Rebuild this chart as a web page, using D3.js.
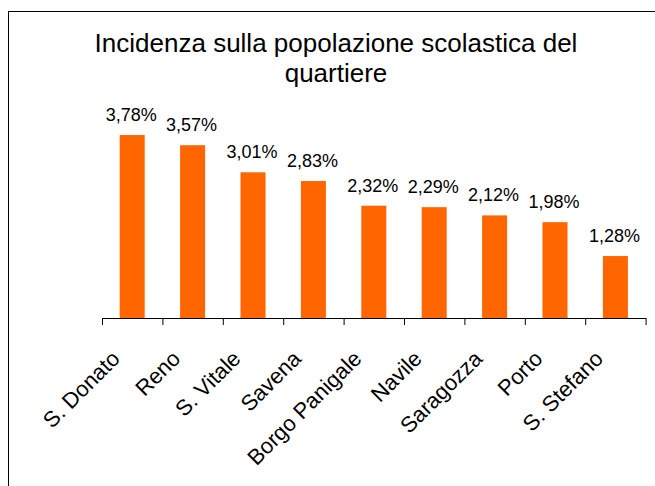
<!DOCTYPE html>
<html>

<head>
	<title>Incidenza sulla popolazione scolastica del quartiere</title>
	<script src="https://cdn.jsdelivr.net/npm/d3@7/dist/d3.min.js"></script>
	<style>
		body {
			margin: 0;
			background: #fff;
		}

		svg text {
			font-family: "Liberation Sans", Arial, sans-serif;
			fill: #000;
		}

		.bars rect {
			fill: #ff6600;
		}

		.axis path,
		.axis line {
			stroke: #000;
			stroke-width: 1px;
		}
	</style>
</head>

<body>
	<svg id="chart" width="655" height="486"></svg>

	<script>
		// quartieri
		var quartieri = ['S. Donato', 'Reno', 'S. Vitale', 'Savena', 'Borgo Panigale',
			'Navile', 'Saragozza', 'Porto', 'S. Stefano'];
		// incidenza %
		var incidenza = [3.78, 3.57, 3.01, 2.83, 2.32, 2.29, 2.12, 1.98, 1.28];
		var titleLines = ['Incidenza sulla popolazione scolastica del', 'quartiere'];

		var svg = d3.select('#chart'),
			width = +svg.attr('width'),
			height = +svg.attr('height');

		var x0 = 102, x1 = 645.6, yBase = 318;

		var data = quartieri.map((q, i) => ({ name: q, value: incidenza[i] }));

		var x = d3.scaleBand()
			.domain(quartieri)
			.range([x0, x1])
			.paddingInner(0.586)
			.paddingOuter(0.293);

		var y = d3.scaleLinear()
			.domain([0, 4])
			.range([yBase, yBase - 193.6]);

		var fmt = v => d3.format('.2f')(v).replace('.', ',') + '%';

		// chart border (runs off the page right and bottom)
		svg.append('rect')
			.attr('x', 8.5)
			.attr('y', 11.5)
			.attr('width', 700)
			.attr('height', 500)
			.attr('fill', 'none')
			.attr('stroke', '#000');

		svg.append('g')
			.selectAll('text')
			.data(titleLines)
			.enter()
			.append('text')
			.attr('x', 336)
			.attr('y', (d, i) => 52 + i * 30)
			.attr('text-anchor', 'middle')
			.style('font-size', '26px')
			.text(d => d);

		svg.append('g')
			.attr('class', 'bars')
			.selectAll('rect')
			.data(data)
			.enter()
			.append('rect')
			.attr('x', d => x(d.name))
			.attr('y', d => y(d.value))
			.attr('width', x.bandwidth())
			.attr('height', d => yBase - y(d.value));

		svg.append('g')
			.attr('class', 'labels')
			.selectAll('text')
			.data(data)
			.enter()
			.append('text')
			.attr('x', d => x(d.name) + x.bandwidth() / 2 - 1)
			.attr('y', d => y(d.value) - 14)
			.attr('text-anchor', 'middle')
			.style('font-size', '18px')
			.text(d => fmt(d.value));

		// category axis, ticks between the categories
		var edges = d3.scaleLinear()
			.domain([0, quartieri.length])
			.range([x0, x1]);

		svg.append('g')
			.attr('class', 'axis')
			.attr('transform', 'translate(0,' + yBase + ')')
			.call(d3.axisBottom(edges)
				.tickValues(d3.range(quartieri.length + 1))
				.tickFormat('')
				.tickSizeInner(7)
				.tickSizeOuter(0));

		svg.append('g')
			.attr('class', 'cats')
			.selectAll('text')
			.data(quartieri)
			.enter()
			.append('text')
			.attr('transform', d => 'translate(' + (x(d) + x.bandwidth() / 2 - 11) + ',' + (yBase + 42) + ') rotate(-45)')
			.attr('text-anchor', 'end')
			.style('font-size', '22px')
			.text(d => d);
	</script>
</body>

</html>
